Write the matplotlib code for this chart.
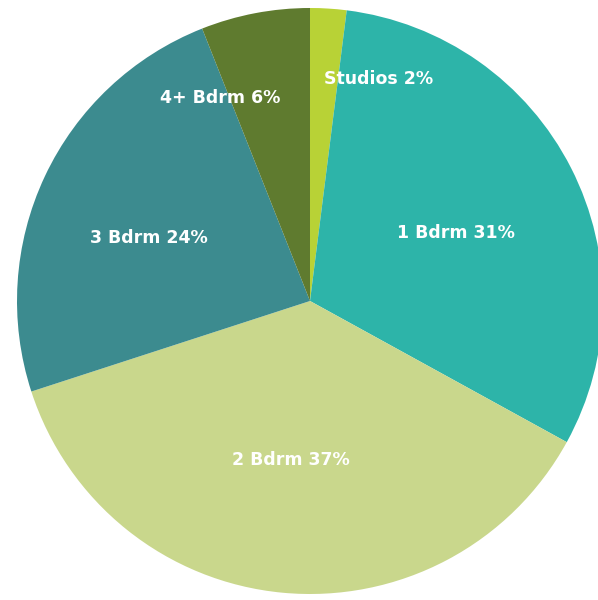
import matplotlib
matplotlib.use("Agg")
import matplotlib.pyplot as plt
import numpy as np

# unit mix, clockwise from 12 o'clock
categories = ["Studios", "1 Bdrm", "2 Bdrm", "3 Bdrm", "4+ Bdrm"]
shares = [2, 31, 37, 24, 6]
colors = ["#b8d236", "#2db4a9", "#c9d78c", "#3c8b8f", "#5f7b2f"]

# label placement: radial fraction, angle nudge (deg), horizontal alignment
label_r = [0.76, 0.55, 0.545, 0.59, 0.70]
label_dang = [0.0, -2.0, -1.5, 4.0, -2.5]
label_ha = ["left", "center", "center", "center", "right"]

fig = plt.figure(figsize=(5.98, 6.0), dpi=100)
ax = fig.add_axes([0, 0, 1, 1])

wedges, _ = ax.pie(shares, colors=colors, startangle=90, counterclock=False,
                   radius=1.0, center=(0, 0),
                   wedgeprops=dict(linewidth=0, antialiased=True))

for w, cat, s, r, da, ha in zip(wedges, categories, shares, label_r, label_dang, label_ha):
    mid = np.deg2rad((w.theta1 + w.theta2) / 2 + da)
    ax.text(r * np.cos(mid), r * np.sin(mid), f"{cat} {s}%",
            color="white", fontsize=12.5, fontweight="bold",
            family="DejaVu Sans", ha=ha, va="center")

# 293 px per unit, centre at (310, 301) px
px = 293.0
ax.set_xlim(-310 / px, (598 - 310) / px)
ax.set_ylim(-299 / px, 301 / px)
ax.set_aspect("auto")
ax.axis("off")

fig.savefig("out.png", dpi=100, facecolor="white")
